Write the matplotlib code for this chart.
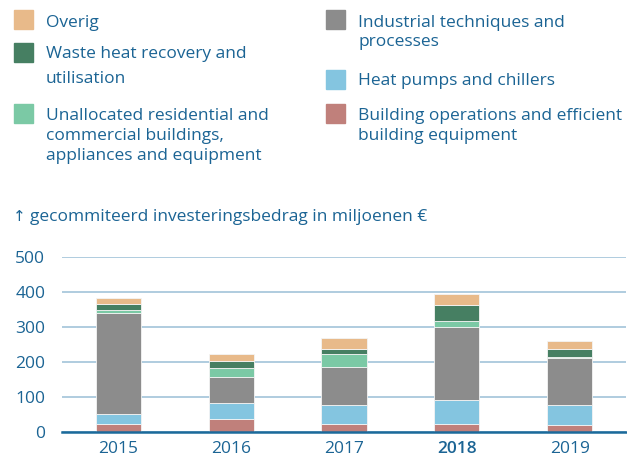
import matplotlib
matplotlib.use('Agg')
import matplotlib.pyplot as plt
from matplotlib.patches import Rectangle
import numpy as np

plt.rcParams['font.family'] = ['Open Sans', 'DejaVu Sans']

years = ['2015', '2016', '2017', '2018', '2019']
building_ops = [22, 35, 23, 21, 18]
heat_pumps = [28, 47, 53, 70, 59]
industrial = [290, 75, 108, 208, 134]
unallocated = [9, 26, 38, 17, 3]
waste_heat = [17, 19, 15, 47, 23]
overig = [17, 21, 30, 31, 23]

series = [building_ops, heat_pumps, industrial, unallocated, waste_heat, overig]
colors = ['#C0807B', '#84C5E0', '#8C8C8C', '#7BC9A5', '#467F62', '#E8BA8A']

TXT = '#1B6494'
W, H = 627, 458

fig = plt.figure(figsize=(W / 100, H / 100), dpi=100)
ax = fig.add_axes([62 / W, 1 - 431.7 / H, 564 / W, (431.7 - 256.7) / H])

x = np.arange(len(years))
bottom = np.zeros(len(years))
for vals, c in zip(series, colors):
    ax.bar(x, vals, bottom=bottom, width=0.4, color=c, edgecolor='#F4F4F4', linewidth=0.6, zorder=3)
    bottom += np.array(vals)

ax.set_ylim(0, 500)
ax.set_xlim(-0.5, 4.5)
ax.set_yticks([0, 100, 200, 300, 400, 500])
ax.set_xticks(x)
ax.set_xticklabels(years)
ax.grid(axis='y', color='#A9C8DC', linewidth=1.3, zorder=0)
for s in ['top', 'right', 'left']:
    ax.spines[s].set_visible(False)
ax.spines['bottom'].set_color('#1B6A9B')
ax.spines['bottom'].set_linewidth(1.8)
ax.spines['bottom'].set_zorder(4)
ax.tick_params(length=0, labelsize=12.5, labelcolor=TXT)
ax.tick_params(axis='x', pad=7)
ax.tick_params(axis='y', pad=12)
ax.get_xticklabels()[3].set_fontweight('semibold')


def fx(px):
    return px / W


def fy(py):
    return 1 - py / H


# legend: (lines, colour, square x, square top y, baselines)
legend = [
    (['Overig'], colors[5], 14, 10, [27]),
    (['Waste heat recovery and', 'utilisation'], colors[4], 14, 43, [58, 83]),
    (['Unallocated residential and', 'commercial buildings,', 'appliances and equipment'],
     colors[3], 14, 104, [120, 140, 160]),
    (['Industrial techniques and', 'processes'], colors[2], 326, 10, [27, 46]),
    (['Heat pumps and chillers'], colors[1], 326, 70, [85]),
    (['Building operations and efficient', 'building equipment'], colors[0], 326, 104, [120, 140]),
]
for lines, c, sx, sy, ys in legend:
    fig.patches.append(Rectangle((fx(sx), fy(sy + 19)), 19 / W, 19 / H,
                                 transform=fig.transFigure, color=c, figure=fig))
    for line, ly in zip(lines, ys):
        fig.text(fx(sx + 32), fy(ly), line, ha='left', va='baseline', fontsize=12.5,
                 color=TXT)

fig.text(fx(13), fy(221), '\u2191', ha='left', va='baseline', fontsize=11, color=TXT)
fig.text(fx(30), fy(221), 'gecommiteerd investeringsbedrag in miljoenen \u20ac',
         ha='left', va='baseline', fontsize=12.5, color=TXT)

fig.savefig('out.png', dpi=100)
